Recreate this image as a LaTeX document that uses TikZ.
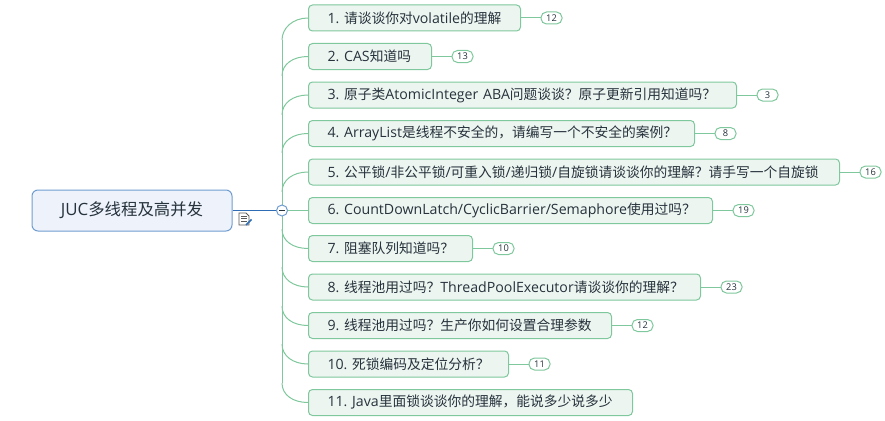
\documentclass[tikz,border=0pt]{standalone}
\usepackage{fontspec}
\usepackage{xcolor}
\setmainfont{Open Sans}[Scale=1.03]
\newfontfamily\cjkfont{Noto Sans CJK SC}
\newcommand{\latinfont}{\rmfamily}
\frenchspacing
\newcount\hanchar
\hanchar="4E00
\loop
  \XeTeXcharclass\hanchar=1
  \advance\hanchar by 1
\ifnum\hanchar<"A000\repeat
\XeTeXcharclass"FF0C=1
\XeTeXcharclass"FF1F=1
\XeTeXinterchartokenstate=1
\XeTeXinterchartoks 0 1={\cjkfont}
\XeTeXinterchartoks 4095 1={\cjkfont}
\XeTeXinterchartoks 1 0={\latinfont}
\usetikzlibrary{calc}
\definecolor{juicGreen}{HTML}{7FC79C}
\definecolor{juicPale}{HTML}{EDF5F0}
\definecolor{juicBlue}{HTML}{2E6DB4}
\definecolor{juicRim}{HTML}{6F9DD0}
\definecolor{juicSky}{HTML}{EEF3FB}
\definecolor{juicInk}{HTML}{26323C}
\tikzset{
  rootbox/.style={draw=juicRim,fill=juicSky,line width=1pt,rounded corners=6pt,text=juicInk,font=\fontsize{16.4}{20}\selectfont,minimum width=200pt,minimum height=41pt,inner sep=0pt},
  topicbox/.style={draw=juicGreen,fill=juicPale,line width=1pt,rounded corners=4pt,text=juicInk,font=\fontsize{13.75}{16}\selectfont,minimum height=26pt,inner xsep=19pt,inner ysep=0pt,anchor=west},
  countbox/.style={draw=juicGreen,fill=white,line width=1pt,rounded corners=5.5pt,text=juicInk,font=\fontsize{9}{10}\selectfont,minimum width=21pt,minimum height=12pt,inner sep=0pt,anchor=west},
  branch/.style={juicGreen,line width=1pt}
}
\begin{document}
\begin{tikzpicture}[x=1pt,y=-1pt]
  \useasboundingbox (0,0) rectangle (885,420);
  \node[rootbox] (root) at (132,210.5) {JUC多线程及高并发};
  \coordinate (trunktop) at (282,40);
  \coordinate (trunkend) at (282,383);
  \draw[branch] (trunktop) -- (trunkend);
  \foreach \n/\y/\r/\t/\c in {
    1/18/520/{1. 请谈谈你对volatile的理解}/12,
    2/56.5/431/{2. CAS知道吗}/13,
    3/95/736/{3. 原子类AtomicInteger ABA问题谈谈？原子更新引用知道吗？}/3,
    4/133.5/694/{4. ArrayList是线程不安全的，请编写一个不安全的案例？}/8,
    5/172/839/{5. 公平锁/非公平锁/可重入锁/递归锁/自旋锁请谈谈你的理解？请手写一个自旋锁}/16,
    6/210.5/712/{6. CountDownLatch/CyclicBarrier/Semaphore使用过吗？}/19,
    7/248.5/472/{7. 阻塞队列知道吗？}/10,
    8/287/700/{8. 线程池用过吗？ThreadPoolExecutor请谈谈你的理解？}/23,
    9/325.5/611/{9. 线程池用过吗？生产你如何设置合理参数}/12,
    10/364/508/{10. 死锁编码及定位分析？}/11,
    11/402.5/632/{11. Java里面锁谈谈你的理解，能说多少说多少}/
  }{
    \pgfmathsetmacro{\w}{\r-308-38}
    \node[topicbox,text width=\w pt] (t\n) at (308,\y) {\mbox{\t}};
    \ifnum\n=11\relax\else
      \pgfmathsetmacro{\b}{\r+20.5}
      \node[countbox] (c\n) at (\b,\y) {\c};
      \draw[branch] (t\n.east) -- (c\n.west);
    \fi
  }
  \foreach \n/\s in {1/40,2/76,3/115,4/153,5/192}{
    \draw[branch] (282,\s) .. controls +(0,-12) and +(-15,0) .. (t\n.west);
  }
  \foreach \n/\s in {7/229,8/267,9/306,10/344,11/383}{
    \draw[branch] (282,\s) .. controls +(0,12) and +(-15,0) .. (t\n.west);
  }
  \node[draw=juicRim,fill=white,circle,line width=1pt,minimum size=11pt,inner sep=0pt] (fold) at (282,210.5) {};
  \draw[branch] (fold) -- (t6.west);
  \draw[juicBlue,line width=1pt] (root.east) -- (fold.west);
  \draw[juicInk,line width=1pt] (279,210.5) -- (285,210.5);
  % note icon
  \draw[black!65,line width=0.8pt,fill=white] (239,213) -- (246,213) -- (249,216) -- (249,225) -- (239,225) -- cycle;
  \foreach \y in {216,218.5,221}{
    \draw[black!65,line width=0.8pt] (241,\y) -- (247,\y);
  }
  \draw[juicBlue,line width=1.6pt] (246,225) -- (251.5,219.5);
\end{tikzpicture}
\end{document}
